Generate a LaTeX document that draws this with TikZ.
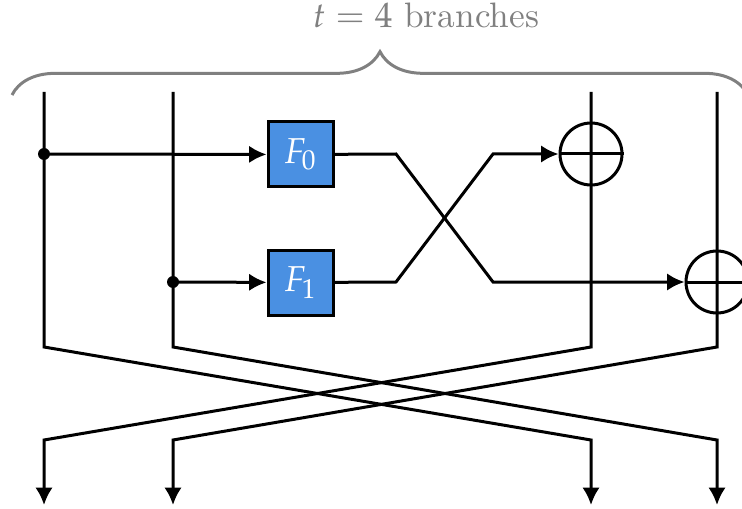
\documentclass[tikz,border=0pt]{standalone}
\usepackage{mathpazo}
\usetikzlibrary{positioning,arrows.meta,decorations.pathreplacing}
\definecolor{boxclr}{RGB}{74,144,226}
\definecolor{braceclr}{RGB}{128,128,128}
\tikzset{ %
  ,>={Latex[length=5.2pt,width=5.2pt]}
  ,wire/.style={line width=0.9pt}
  ,fnbox/.style={draw, fill=boxclr, text=white, line width=0.9pt, minimum size=19.5pt, inner sep=0, font=\fontsize{10.8}{13}\selectfont}
  ,xorgate/.style={draw, circle, line width=0.9pt, minimum size=18.6pt, inner sep=0}
  ,branchdot/.style={circle, fill, inner sep=0, minimum size=3.6pt}
}
\begin{document}
\begin{tikzpicture}[x=0.3pt, y=-0.3pt]
  \useasboundingbox (0,0) rectangle (742,509);
  \foreach \i/\x in {0/44,1/173,2/591,3/717} {
    \coordinate (t\i) at (\x,92);
    \coordinate (m\i) at (\x,347);
    \coordinate (b\i) at (\x,440);
    \coordinate (e\i) at (\x,505);
  }
  \node[fnbox] (F0) at (300.5,154.5) {$F_0$};
  \node[fnbox] (F1) at (300.5,282.5) {$F_1$};
  \node[xorgate] (X0) at (591,154) {};
  \node[xorgate] (X1) at (717,282) {};
  \node[branchdot] (d0) at (44,154) {};
  \node[branchdot] (d1) at (173,282) {};
  \coordinate (c0) at (396,154);
  \coordinate (c1) at (396,282);
  \coordinate (c2) at (493,154);
  \coordinate (c3) at (493,282);

  \draw[wire,->] (t0) -- (m0) -- (b2) -- (e2);
  \draw[wire,->] (t1) -- (m1) -- (b3) -- (e3);
  \draw[wire,->] (t2) -- (m2) -- (b0) -- (e0);
  \draw[wire,->] (t3) -- (m3) -- (b1) -- (e1);
  \draw[wire,->] (d0.center) -- (F0);
  \draw[wire,->] (d1.center) -- (F1);
  \draw[wire,->] (F0) -- (c0) -- (c3) -- (X1);
  \draw[wire,->] (F1) -- (c1) -- (c2) -- (X0);
  \draw[wire] (X0.west) -- (X0.east) (X1.west) -- (X1.east);

  \draw[braceclr, line width=0.9pt, decorate, decoration={brace, amplitude=13pt}]
    (12,95) -- (748,95);
  \node[text=braceclr, font=\fontsize{10.6}{13}\selectfont] (lbl) at (426,15) {$t = 4$ branches};
\end{tikzpicture}
\end{document}
